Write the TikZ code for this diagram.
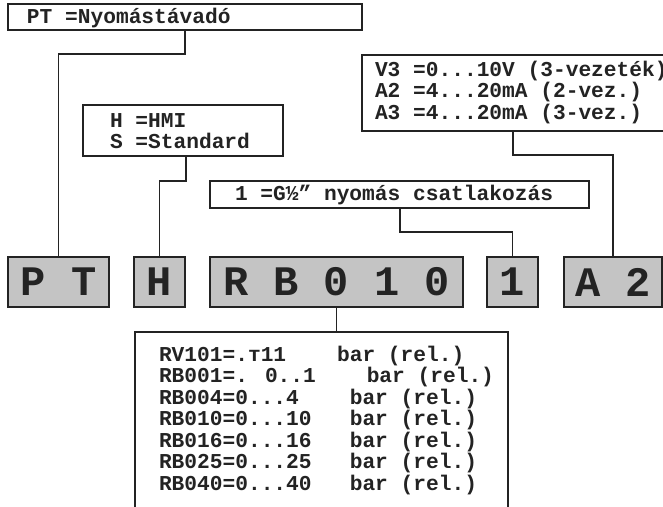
\documentclass[tikz,border=0pt]{standalone}
\usepackage{fontspec}
\newfontfamily\monof{Liberation Mono}
\definecolor{boxgray}{RGB}{196,196,196}
\definecolor{ink}{RGB}{35,35,35}
\tikzset{
  lbox/.style={draw=ink, line width=1.1pt, inner sep=0pt, outer sep=0pt, fill=white},
  codebox/.style={draw=ink, line width=1.1pt, inner sep=0pt, outer sep=0pt, fill=boxgray,
    font=\monof\bfseries\fontsize{42}{42}\selectfont, text=ink},
  txt/.style={anchor=base west, inner sep=0pt, outer sep=0pt,
    font=\monof\bfseries\fontsize{21.2}{21.6}\selectfont, text=ink},
  conn/.style={draw=ink, line width=1.3pt}
}
\begin{document}
\begin{tikzpicture}[x=1pt,y=-1pt]
\useasboundingbox (0,0) rectangle (663,506);
\clip (0,0) rectangle (663,506);
% label boxes
\node[lbox, minimum width=354pt, minimum height=26pt] (lpt) at (185,17) {};
\node[txt] (tpt) at (27,23.5) {PT =Nyomástávadó};
\node[lbox, minimum width=200pt, minimum height=51pt] (lh) at (183,130.5) {};
\node[txt] (th1) at (110,127) {H =HMI};
\node[txt] (th2) at (110,148) {S =Standard};
\node[lbox, minimum width=318pt, minimum height=76pt] (lv) at (521,93) {};
\node[txt] (tv1) at (375,76) {V3 =0...10V (3-vezeték)};
\node[txt] (tv2) at (375,97.5) {A2 =4...20mA (2-vez.)};
\node[txt] (tv3) at (375,119) {A3 =4...20mA (3-vez.)};
\node[lbox, minimum width=379pt, minimum height=27pt] (lc) at (399.5,194.5) {};
\node[txt] (tc) at (235,200) {1 =G½” nyomás csatlakozás};
\node[lbox, minimum width=373pt, minimum height=190pt] (lrb) at (321.5,427) {};
\node[txt] (r1) at (159,361) {RV101=.т11~~~~bar (rel.)};
\node[txt] (r2) at (159,382.5) {RB001=. 0..1~~~~bar (rel.)};
\node[txt] (r3) at (159,404) {RB004=0...4~~~~bar (rel.)};
\node[txt] (r4) at (159,425.5) {RB010=0...10~~~bar (rel.)};
\node[txt] (r5) at (159,447) {RB016=0...16~~~bar (rel.)};
\node[txt] (r6) at (159,468.5) {RB025=0...25~~~bar (rel.)};
\node[txt] (r7) at (159,490) {RB040=0...40~~~bar (rel.)};
% code boxes
\node[codebox, minimum width=101pt, minimum height=50pt] (bpt) at (58.5,282) {P T};
\node[codebox, minimum width=51pt, minimum height=50pt] (bh) at (159.5,282) {H};
\node[codebox, minimum width=253pt, minimum height=50pt] (brb) at (336.5,282) {R B 0 1 0};
\node[codebox, minimum width=51pt, minimum height=50pt] (b1) at (512.5,282) {1};
\node[codebox, minimum width=98pt, minimum height=50pt] (ba) at (613,282) {A 2};
% connectors
\coordinate (c1) at (185,54);
\coordinate (c2) at (186,181);
\coordinate (c3) at (513,155);
\coordinate (c4) at (400,232);
\draw[conn] (c1 |- lpt.south) -- (c1) -| (bpt.north);
\draw[conn] (c2 |- lh.south) -- (c2) -| (bh.north);
\draw[conn] (c3 |- lv.south) -- (c3) -| (ba.north);
\draw[conn] (c4 |- lc.south) -- (c4) -| (b1.north);
\draw[conn] (brb.south) -- (brb.south |- lrb.north);
\end{tikzpicture}
\end{document}
